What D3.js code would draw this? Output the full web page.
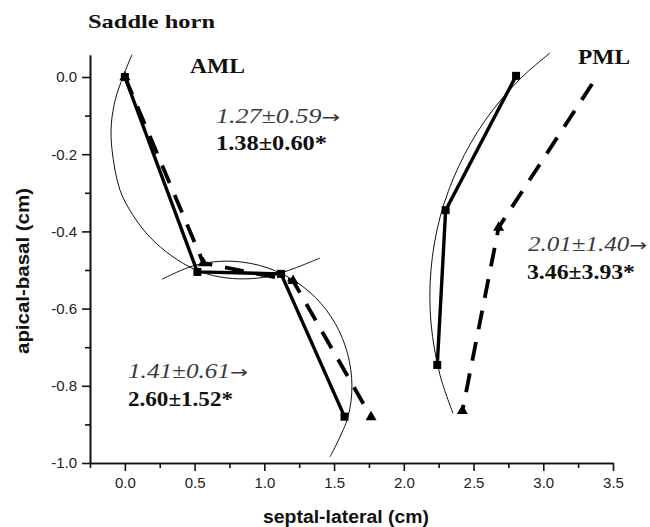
<!DOCTYPE html>
<html>
<head>
<meta charset="utf-8">
<script src="https://cdn.jsdelivr.net/npm/d3@7"></script>
<style>
  body { margin: 0; background: #fff; }
  svg { display: block; }
</style>
</head>
<body>
<script>
// measured leaflet points (septal-lateral, apical-basal), cm
const amlSolid = [[0, 0], [0.52, -0.505], [1.12, -0.51], [1.575, -0.88]];
const amlDashed = [[0, 0], [0.563, -0.482], [1.206, -0.528], [1.765, -0.881]];
const pmlSolid = [[2.805, 0.003], [2.30, -0.345], [2.24, -0.746]];
const pmlDashed = [[3.35, -0.018], [2.68, -0.39], [2.42, -0.865]];

// thin fitted arcs
const amlUpperArc = [[0.051, 0.058], [-0.014, 0.0], [-0.068, -0.058], [-0.097, -0.122], [-0.092, -0.189],
  [-0.035, -0.293], [0.058, -0.358], [0.18, -0.415], [0.338, -0.464], [0.51, -0.5],
  [0.682, -0.518], [0.861, -0.523], [1.04, -0.516], [1.22, -0.495], [1.399, -0.469]];
const amlLowerArc = [[0.266, -0.524], [0.5, -0.488], [0.732, -0.477], [0.964, -0.488],
  [1.18, -0.52], [1.366, -0.571], [1.509, -0.639], [1.597, -0.717], [1.628, -0.8],
  [1.597, -0.884], [1.471, -0.984]];
const pmlArc = [[3.048, 0.062], [2.831, -0.006], [2.584, -0.112], [2.393, -0.232],
  [2.261, -0.362], [2.195, -0.499], [2.195, -0.637], [2.261, -0.774], [2.353, -0.871]];

const xTicks = [0, 0.5, 1.0, 1.5, 2.0, 2.5, 3.0, 3.5];
const xMinorTicks = [-0.25, 0.25, 0.75, 1.25, 1.75, 2.25, 2.75, 3.25];
const yTicks = [0, -0.2, -0.4, -0.6, -0.8, -1.0];
const yMinorTicks = [-0.1, -0.3, -0.5, -0.7, -0.9];

const width = 650;
const height = 527;

const svg = d3.select("body").append("svg")
  .attr("width", width)
  .attr("height", height);

const x = d3.scaleLinear().domain([-0.25, 3.5]).range([90, 613]);
const y = d3.scaleLinear().domain([-1.0, 0.057]).range([463, 55]);

// axes
const fmt = d => d.toFixed(1);

function styleAxis(g) {
  g.selectAll("path, line").attr("stroke", "#111").attr("stroke-width", 1.6);
  g.selectAll("text")
    .attr("fill", "#222")
    .style("font-family", "'Liberation Sans', Arial, sans-serif")
    .style("font-size", "15px");
}

svg.append("g")
  .attr("transform", `translate(0,${y(-1.0)})`)
  .call(d3.axisBottom(x).tickValues(xMinorTicks).tickFormat("").tickSize(5).tickSizeOuter(0))
  .call(styleAxis);

svg.append("g")
  .attr("transform", `translate(0,${y(-1.0)})`)
  .call(d3.axisBottom(x).tickValues(xTicks).tickFormat(fmt).tickSize(8).tickSizeOuter(0).tickPadding(6))
  .call(styleAxis);

svg.append("g")
  .attr("transform", `translate(${x(-0.25)},0)`)
  .call(d3.axisLeft(y).tickValues(yMinorTicks).tickFormat("").tickSize(5).tickSizeOuter(0))
  .call(styleAxis);

svg.append("g")
  .attr("transform", `translate(${x(-0.25)},0)`)
  .call(d3.axisLeft(y).tickValues(yTicks).tickFormat(fmt).tickSize(8).tickSizeOuter(0).tickPadding(5))
  .call(styleAxis);

svg.append("text")
  .attr("x", 346)
  .attr("y", 523)
  .attr("text-anchor", "middle")
  .attr("textLength", 166)
  .attr("lengthAdjust", "spacingAndGlyphs")
  .style("font-family", "'Liberation Sans', Arial, sans-serif")
  .style("font-weight", "bold")
  .style("font-size", "18px")
  .attr("fill", "#111")
  .text("septal-lateral (cm)");

svg.append("text")
  .attr("transform", "translate(29,271) rotate(-90)")
  .attr("text-anchor", "middle")
  .attr("textLength", 166)
  .attr("lengthAdjust", "spacingAndGlyphs")
  .style("font-family", "'Liberation Sans', Arial, sans-serif")
  .style("font-weight", "bold")
  .style("font-size", "18px")
  .attr("fill", "#111")
  .text("apical-basal (cm)");

// thin arcs
const arcLine = d3.line()
  .x(d => x(d[0]))
  .y(d => y(d[1]))
  .curve(d3.curveCatmullRom);

[amlUpperArc, amlLowerArc, pmlArc].forEach(arc => {
  svg.append("path")
    .attr("d", arcLine(arc))
    .attr("fill", "none")
    .attr("stroke", "#111")
    .attr("stroke-width", 1);
});

// leaflet traces
const trace = d3.line().x(d => x(d[0])).y(d => y(d[1]));

[amlDashed, pmlDashed].forEach(s => {
  svg.append("path")
    .attr("d", trace(s))
    .attr("fill", "none")
    .attr("stroke", "#000")
    .attr("stroke-width", 3.8)
    .attr("stroke-dasharray", "19,13");
});

[amlSolid, pmlSolid].forEach(s => {
  svg.append("path")
    .attr("d", trace(s))
    .attr("fill", "none")
    .attr("stroke", "#000")
    .attr("stroke-width", 3.4);
});

const tri = d3.symbol(d3.symbolTriangle, 52);
const sq = d3.symbol(d3.symbolSquare, 64);

svg.selectAll(".tri")
  .data(amlDashed.concat(pmlDashed.slice(1)))
  .join("path")
  .attr("class", "tri")
  .attr("transform", d => `translate(${x(d[0])},${y(d[1])})`)
  .attr("d", tri)
  .attr("fill", "#000");

svg.selectAll(".sq")
  .data(amlSolid.concat(pmlSolid))
  .join("path")
  .attr("class", "sq")
  .attr("transform", d => `translate(${x(d[0])},${y(d[1])})`)
  .attr("d", sq)
  .attr("fill", "#000");

// labels
function serif(tx, ty, str, len, opts) {
  const t = svg.append("text")
    .attr("x", tx)
    .attr("y", ty)
    .attr("textLength", len)
    .attr("lengthAdjust", "spacingAndGlyphs")
    .style("font-family", "'Liberation Serif', 'Times New Roman', serif")
    .style("font-size", (opts.size || 20) + "px")
    .attr("fill", opts.fill || "#111");
  if (opts.bold) t.style("font-weight", "bold");
  if (opts.italic) t.style("font-style", "italic");
  if (opts.arrow) {
    t.append("tspan").text(str);
    t.append("tspan")
      .style("font-family", "'DejaVu Sans', sans-serif")
      .style("font-style", "normal")
      .style("font-size", "17px")
      .text("→");
  } else {
    t.text(str);
  }
  return t;
}

serif(88, 28, "Saddle horn", 127, { bold: true, size: 19 });
serif(190, 73, "AML", 55, { bold: true });
serif(578, 64, "PML", 52, { bold: true });

serif(216, 123, "1.27±0.59", 124, { italic: true, fill: "#3a3a3a", arrow: true });
serif(216, 150, "1.38±0.60*", 111, { bold: true });
serif(528, 251, "2.01±1.40", 119, { italic: true, fill: "#3a3a3a", arrow: true });
serif(527, 279, "3.46±3.93*", 108, { bold: true });
serif(128, 378, "1.41±0.61", 120, { italic: true, fill: "#3a3a3a", arrow: true });
serif(128, 406, "2.60±1.52*", 105, { bold: true });
</script>
</body>
</html>
